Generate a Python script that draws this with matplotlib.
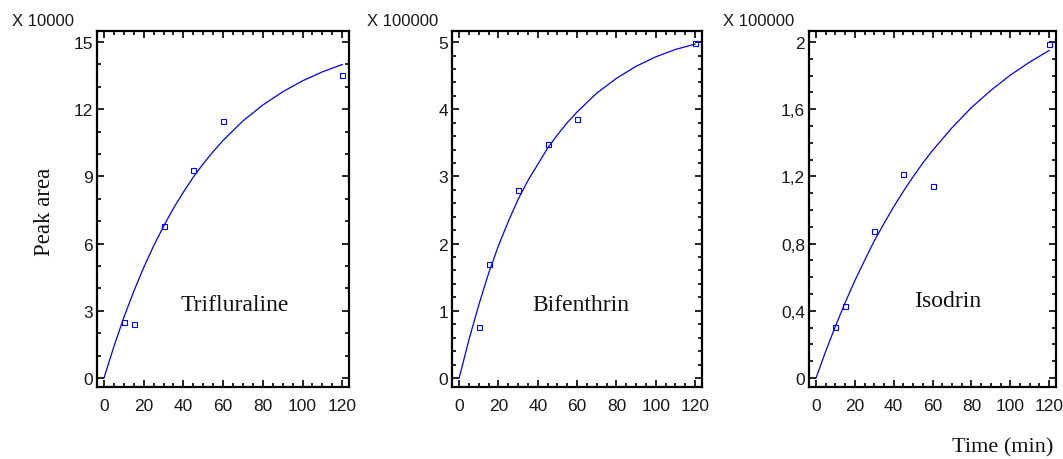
import matplotlib
matplotlib.use("Agg")
import matplotlib.pyplot as plt
from matplotlib.ticker import MultipleLocator

# measured points (time in min, peak area in axis units)
time_pts = [10, 15, 30, 45, 60, 120]
triflur_pts = [2.52, 2.41, 6.80, 9.28, 11.48, 13.54]
bifen_pts = [0.765, 1.69, 2.80, 3.48, 3.85, 4.99]
isodrin_pts = [0.304, 0.429, 0.878, 1.216, 1.142, 1.99]

# fitted curves
time_fit = [0, 5, 10, 15, 20, 25, 30, 35, 40, 45, 50, 55, 60, 70, 80, 90, 100, 110, 120]
triflur_fit = [0, 1.41, 2.70, 3.87, 4.93, 5.90, 6.77, 7.58, 8.30, 8.97, 9.57, 10.11,
               10.61, 11.48, 12.19, 12.78, 13.27, 13.67, 14.0]
bifen_fit = [0, 0.573, 1.09, 1.56, 1.97, 2.33, 2.66, 2.94, 3.18, 3.42, 3.62, 3.80,
             3.96, 4.24, 4.46, 4.64, 4.78, 4.89, 4.97]
isodrin_fit = [0, 0.160, 0.309, 0.449, 0.580, 0.700, 0.817, 0.920, 1.020, 1.112, 1.199, 1.280,
               1.355, 1.490, 1.610, 1.712, 1.803, 1.881, 1.95]

names = ["Trifluraline", "Bifenthrin", "Isodrin"]
multipliers = ["X 10000", "X 100000", "X 100000"]

x_ticks = [0, 20, 40, 60, 80, 100, 120]
y_ticks = [[0, 3, 6, 9, 12, 15], [0, 1, 2, 3, 4, 5], [0, 0.4, 0.8, 1.2, 1.6, 2]]
y_ticklabels = [["0", "3", "6", "9", "12", "15"],
                ["0", "1", "2", "3", "4", "5"],
                ["0", "0,4", "0,8", "1,2", "1,6", "2"]]
y_minor = [1, 0.2, 0.1]
y_max = [15, 5, 2]

serif = "Liberation Serif"
sans = "Liberation Sans"

fig = plt.figure(figsize=(10.63, 4.6), dpi=100)
positions = [[0.0913, 0.1565, 0.2370, 0.7739],
             [0.4255, 0.1565, 0.2346, 0.7739],
             [0.7613, 0.1565, 0.2318, 0.7739]]
label_pos = [(0.546, 0.233), (0.517, 0.233), (0.563, 0.244)]
mult_x = [0.0113, 0.345, 0.680]

pts = [triflur_pts, bifen_pts, isodrin_pts]
fits = [triflur_fit, bifen_fit, isodrin_fit]

for i in range(3):
    ax = fig.add_axes(positions[i])
    ax.plot(time_fit, fits[i], color="#0000ff", lw=0.9)
    ax.plot(time_pts, pts[i], linestyle="none", marker="s", markersize=3.6,
            markerfacecolor="none", markeredgecolor="#0000ff", markeredgewidth=0.8)

    ax.set_xlim(-3.5, 123.4)
    ax.set_ylim(-0.027 * y_max[i], 1.033 * y_max[i])
    ax.set_xticks(x_ticks)
    ax.set_xticklabels([str(t) for t in x_ticks], fontfamily=sans, fontsize=12.5, color="#1a1a1a")
    ax.set_yticks(y_ticks[i])
    ax.set_yticklabels(y_ticklabels[i], fontfamily=sans, fontsize=12.5, color="#1a1a1a")
    ax.xaxis.set_minor_locator(MultipleLocator(5))
    ax.yaxis.set_minor_locator(MultipleLocator(y_minor[i]))

    ax.tick_params(which="both", direction="in", top=True, right=True, width=1.2)
    ax.tick_params(which="major", length=5)
    ax.tick_params(which="minor", length=2.8)
    ax.tick_params(axis="x", which="major", pad=8)
    ax.tick_params(axis="y", which="major", pad=3)
    for s in ax.spines.values():
        s.set_linewidth(1.6)

    ax.text(label_pos[i][0], label_pos[i][1], names[i], transform=ax.transAxes,
            ha="center", va="center", fontfamily=serif, fontsize=17, color="#111111")
    fig.text(mult_x[i], 0.953, multipliers[i], ha="left", va="center",
             fontfamily=sans, fontsize=12, color="#1a1a1a")

fig.text(0.0414, 0.540, "Peak area", rotation=90, ha="center", va="center",
         fontfamily=serif, fontsize=16.5, color="#111111")
fig.text(0.9436, 0.027, "Time (min)", ha="center", va="center",
         fontfamily=serif, fontsize=16, color="#111111")

fig.savefig("out.png", dpi=100, facecolor="white")
